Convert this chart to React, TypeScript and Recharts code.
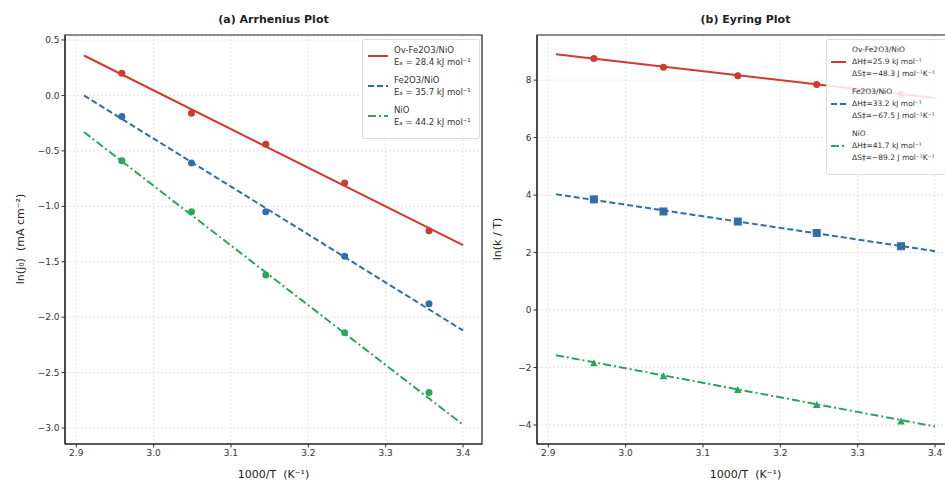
import {
  ComposedChart,
  Line,
  Scatter,
  XAxis,
  YAxis,
  CartesianGrid,
  ReferenceArea,
} from "recharts";

// measured temperatures as 1000/T
const invT = [2.959, 3.049, 3.145, 3.247, 3.356];
const fitX = [2.91, 3.4];

// (a) Arrhenius: ln(j0)
const arrOv = [0.2, -0.16, -0.44, -0.79, -1.22];
const arrFe = [-0.19, -0.61, -1.05, -1.45, -1.88];
const arrNi = [-0.59, -1.05, -1.62, -2.14, -2.68];
const arrFitOv = [0.36, -1.35];
const arrFitFe = [0.0, -2.12];
const arrFitNi = [-0.33, -2.97];

// (b) Eyring: ln(k/T)
const eyOv = [8.75, 8.45, 8.15, 7.85, 7.52];
const eyFe = [3.85, 3.43, 3.08, 2.68, 2.22];
const eyNi = [-1.85, -2.3, -2.78, -3.3, -3.88];
const eyFitOv = [8.9, 7.38];
const eyFitFe = [4.03, 2.05];
const eyFitNi = [-1.57, -4.05];

const xTicks = [2.9, 3.0, 3.1, 3.2, 3.3, 3.4];
const arrTicks = [0.5, 0.0, -0.5, -1.0, -1.5, -2.0, -2.5, -3.0];
const eyTicks = [8, 6, 4, 2, 0, -2, -4];

const RED = "#d0392e";
const BLUE = "#2f6eab";
const GREEN = "#2ea35c";

const X_DOMAIN: [number, number] = [2.8855, 3.4245];
const ARR_DOMAIN: [number, number] = [-3.144, 0.545];
const EY_DOMAIN: [number, number] = [-4.66, 9.57];

const toPts = (xs: number[], ys: number[]) => ys.map((y, i) => ({ x: xs[i], y }));
const minus = (s: string) => s.replace("-", "\u2212");

const font = "'DejaVu Sans', sans-serif";
const tickStyle = { fontSize: 9, fill: "#333", fontFamily: font };

const Dot = (color: string, kind: "circle" | "square" | "triangle") => (p: any) => {
  const { cx, cy } = p;
  if (kind === "square")
    return <rect x={cx - 3.5} y={cy - 3.5} width={7} height={7} fill={color} stroke={color} />;
  if (kind === "triangle")
    return (
      <polygon
        points={`${cx},${cy - 4} ${cx - 3.8},${cy + 3} ${cx + 3.8},${cy + 3}`}
        fill={color}
      />
    );
  return <circle cx={cx} cy={cy} r={3.5} fill={color} />;
};

interface PanelProps {
  yDomain: [number, number];
  yTicks: number[];
  yFmt: (v: number) => string;
  yAxisWidth: number;
  width: number;
  series: {
    pts: { x: number; y: number }[];
    fit: { x: number; y: number }[];
    color: string;
    dash?: string;
    kind: "circle" | "square" | "triangle";
  }[];
}

function Panel({ yDomain, yTicks, yFmt, yAxisWidth, width, series }: PanelProps) {
  return (
    <ComposedChart
      width={width}
      height={488}
      margin={{ top: 35, right: width - 482, bottom: 14, left: 0 }}
    >
      <CartesianGrid stroke="#e4e4e4" strokeDasharray="2 2" />
      <XAxis
        type="number"
        dataKey="x"
        domain={X_DOMAIN}
        ticks={xTicks}
        allowDataOverflow
        height={30}
        tick={tickStyle}
        tickSize={3.5}
        tickLine={{ stroke: "#333" }}
        axisLine={{ stroke: "#222" }}
        tickFormatter={(v: number) => v.toFixed(1)}
      />
      <YAxis
        type="number"
        dataKey="y"
        domain={yDomain}
        ticks={yTicks}
        allowDataOverflow
        width={yAxisWidth}
        tick={tickStyle}
        tickSize={3.5}
        tickLine={{ stroke: "#333" }}
        axisLine={{ stroke: "#222" }}
        tickFormatter={(v: number) => minus(yFmt(v))}
      />
      {series.map((s, i) => (
        <Line
          key={"f" + i}
          data={s.fit}
          dataKey="y"
          stroke={s.color}
          strokeWidth={2}
          strokeDasharray={s.dash}
          dot={false}
          isAnimationActive={false}
        />
      ))}
      {series.map((s, i) => (
        <Scatter
          key={"s" + i}
          data={s.pts}
          fill={s.color}
          shape={Dot(s.color, s.kind)}
          isAnimationActive={false}
        />
      ))}
      <ReferenceArea
        x1={X_DOMAIN[0]}
        x2={X_DOMAIN[1]}
        y1={yDomain[0]}
        y2={yDomain[1]}
        fill="none"
        stroke="#222"
        strokeWidth={1.2}
        ifOverflow="visible"
      />
    </ComposedChart>
  );
}

const legendBox: React.CSSProperties = {
  position: "absolute",
  background: "rgba(255,255,255,0.85)",
  border: "1px solid #ddd",
  borderRadius: 2,
  fontFamily: font,
  color: "#333",
};

function LegendRow({
  color,
  dash,
  lines,
  sample = 22,
}: {
  color: string;
  dash?: string;
  lines: string[];
  sample?: number;
}) {
  return (
    <div style={{ display: "flex", alignItems: "center", marginBottom: 6 }}>
      <svg width={sample} height={6} style={{ marginRight: 5, flex: "none" }}>
        <line x1={1} y1={3} x2={sample - 1} y2={3} stroke={color} strokeWidth={2} strokeDasharray={dash} />
      </svg>
      <div style={{ lineHeight: "12px", whiteSpace: "nowrap" }}>
        {lines.map((l) => (
          <div key={l}>{l}</div>
        ))}
      </div>
    </div>
  );
}

export default function App() {
  const arrSeries = [
    { pts: toPts(invT, arrOv), fit: toPts(fitX, arrFitOv), color: RED, kind: "circle" as const },
    { pts: toPts(invT, arrFe), fit: toPts(fitX, arrFitFe), color: BLUE, dash: "6 3", kind: "circle" as const },
    { pts: toPts(invT, arrNi), fit: toPts(fitX, arrFitNi), color: GREEN, dash: "8 3 2 3", kind: "circle" as const },
  ];
  const eySeries = [
    { pts: toPts(invT, eyOv), fit: toPts(fitX, eyFitOv), color: RED, kind: "circle" as const },
    { pts: toPts(invT, eyFe), fit: toPts(fitX, eyFitFe), color: BLUE, dash: "6 3", kind: "square" as const },
    { pts: toPts(invT, eyNi), fit: toPts(fitX, eyFitNi), color: GREEN, dash: "8 3 2 3", kind: "triangle" as const },
  ];
  const label: React.CSSProperties = {
    position: "absolute",
    fontFamily: font,
    color: "#222",
    whiteSpace: "pre",
  };
  return (
    <div
      style={{
        position: "absolute",
        left: 0,
        top: 0,
        width: 945,
        height: 488,
        overflow: "hidden",
        background: "#fff",
      }}
    >
      <div style={{ position: "absolute", left: 0, top: 0 }}>
        <Panel
          yDomain={ARR_DOMAIN}
          yTicks={arrTicks}
          yFmt={(v) => v.toFixed(1)}
          yAxisWidth={65}
          width={490}
          series={arrSeries}
        />
      </div>
      <div style={{ position: "absolute", left: 472, top: 0 }}>
        <Panel
          yDomain={EY_DOMAIN}
          yTicks={eyTicks}
          yFmt={(v) => String(v)}
          yAxisWidth={65}
          width={490}
          series={eySeries}
        />
      </div>

      <div style={{ ...label, left: 65, width: 417, top: 13, textAlign: "center", fontWeight: "bold", fontSize: 11 }}>
        (a) Arrhenius Plot
      </div>
      <div style={{ ...label, left: 537, width: 417, top: 13, textAlign: "center", fontWeight: "bold", fontSize: 11 }}>
        (b) Eyring Plot
      </div>
      <div style={{ ...label, left: 65, width: 417, top: 468, textAlign: "center", fontSize: 11 }}>
        {"1000/T  (K⁻¹)"}
      </div>
      <div style={{ ...label, left: 537, width: 417, top: 468, textAlign: "center", fontSize: 11 }}>
        {"1000/T  (K⁻¹)"}
      </div>
      <div
        style={{
          ...label,
          left: 20,
          top: 239,
          fontSize: 11,
          transform: "translate(-50%, -50%) rotate(-90deg)",
        }}
      >
        {"ln(j₀)  (mA cm⁻²)"}
      </div>
      <div
        style={{
          ...label,
          left: 497,
          top: 239,
          fontSize: 11,
          transform: "translate(-50%, -50%) rotate(-90deg)",
        }}
      >
        {"ln(k / T)"}
      </div>

      <div style={{ ...legendBox, left: 362, top: 39, width: 106, fontSize: 8.5, padding: "4px 6px 4px 4px" }}>
        <LegendRow color={RED} lines={["Ov-Fe2O3/NiO", "Eₐ = 28.4 kJ mol⁻¹"]} />
        <LegendRow color={BLUE} dash="6 3" lines={["Fe2O3/NiO", "Eₐ = 35.7 kJ mol⁻¹"]} />
        <LegendRow color={GREEN} dash="8 3 2 3" lines={["NiO", "Eₐ = 44.2 kJ mol⁻¹"]} />
      </div>
      <div style={{ ...legendBox, left: 826, top: 39, width: 130, fontSize: 7.5, padding: "4px 4px 4px 3px" }}>
        <LegendRow sample={17} color={RED} lines={["Ov-Fe2O3/NiO", "ΔH‡=25.9 kJ mol⁻¹", "ΔS‡=−48.3 J mol⁻¹K⁻¹"]} />
        <LegendRow sample={17} color={BLUE} dash="6 3" lines={["Fe2O3/NiO", "ΔH‡=33.2 kJ mol⁻¹", "ΔS‡=−67.5 J mol⁻¹K⁻¹"]} />
        <LegendRow sample={17} color={GREEN} dash="8 3 2 3" lines={["NiO", "ΔH‡=41.7 kJ mol⁻¹", "ΔS‡=−89.2 J mol⁻¹K⁻¹"]} />
      </div>
    </div>
  );
}
